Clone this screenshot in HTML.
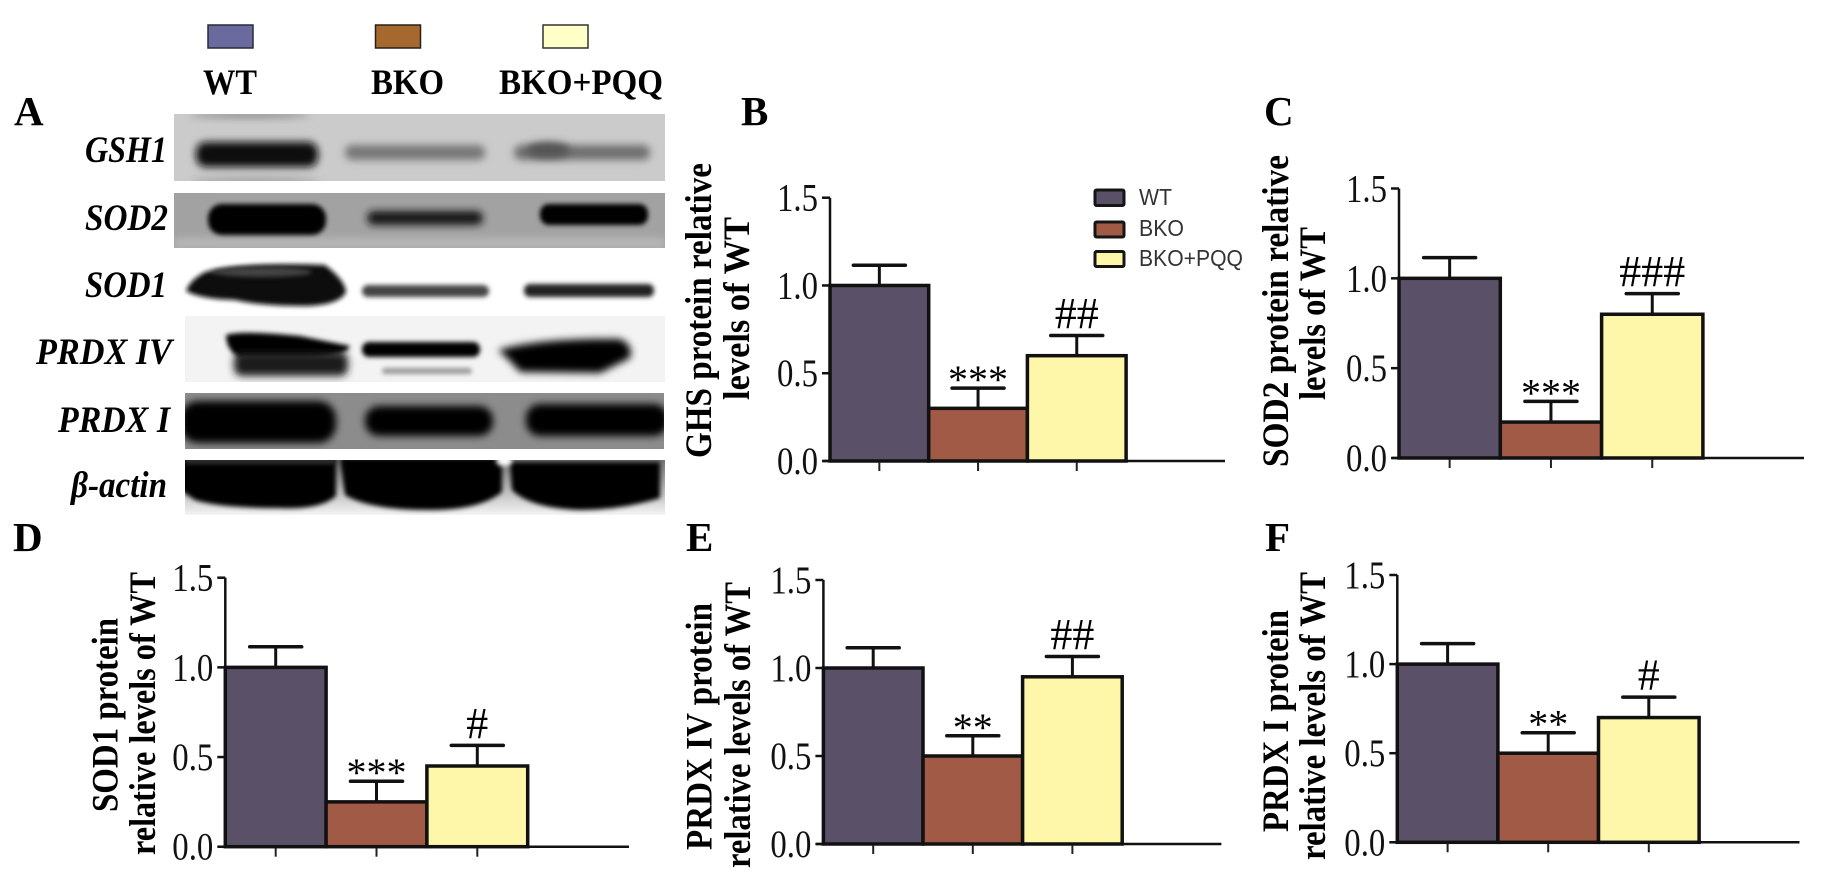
<!DOCTYPE html>
<html lang="en">
<head>
<meta charset="utf-8">
<title>Western blot and protein level bar charts</title>
<style>
html,body{margin:0;padding:0;background:#fff;}
svg{display:block;}
text{font-family:"Liberation Serif",serif;fill:#000;}
.panel-letter{font-size:41px;font-weight:bold;}
.head{font-size:36px;font-weight:bold;}
.blot-label{font-size:37px;font-weight:bold;font-style:italic;}
.axis-title{font-size:37px;font-weight:bold;}
.tick-label{font-size:39px;fill:#111;}
.star{font-size:40px;}
.hash{font-size:44px;}
.legend-text{font-family:"Liberation Sans",sans-serif;font-size:23px;fill:#333;}
</style>
</head>
<body>
<svg id="figure" xmlns="http://www.w3.org/2000/svg" width="1824" height="887" viewBox="0 0 1824 887">
  <defs>
    <filter id="b2" x="-30%" y="-100%" width="160%" height="300%"><feGaussianBlur stdDeviation="2.500"/></filter>
    <filter id="b3" x="-30%" y="-100%" width="160%" height="300%"><feGaussianBlur stdDeviation="4"/></filter>
    <filter id="b6" x="-100%" y="-100%" width="300%" height="300%"><feGaussianBlur stdDeviation="6"/></filter>
    <linearGradient id="actin-bottom" x1="0" y1="0" x2="0" y2="1">
      <stop offset="0" stop-color="#777"/><stop offset="1" stop-color="#f4f4f4"/>
    </linearGradient>
    <clipPath id="clip-gsh"><rect x="174" y="114" width="491" height="67"/></clipPath>
    <clipPath id="clip-sod2"><rect x="174" y="193" width="491" height="55"/></clipPath>
    <clipPath id="clip-prdx4"><rect x="185" y="316" width="480" height="66"/></clipPath>
    <clipPath id="clip-prdx1"><rect x="185" y="393" width="479" height="56"/></clipPath>
    <clipPath id="clip-actin"><rect x="185" y="460" width="480" height="55"/></clipPath>
  </defs>
  <rect x="0" y="0" width="1824" height="887" fill="#fff"/>

  <g>
    <rect x="208" y="25" width="45" height="23" fill="#6a6a9f" stroke="#2a2a3a" stroke-width="1.5"/>
    <rect x="375.500" y="25" width="45" height="23" fill="#a5692f" stroke="#2a2016" stroke-width="1.5"/>
    <rect x="543" y="25" width="45" height="23" fill="#ffffc8" stroke="#333" stroke-width="1.5"/>
    <text class="head" x="203" y="94" textLength="54" lengthAdjust="spacingAndGlyphs">WT</text>
    <text class="head" x="371" y="94" textLength="73" lengthAdjust="spacingAndGlyphs">BKO</text>
    <text class="head" x="499" y="94" textLength="164" lengthAdjust="spacingAndGlyphs">BKO+PQQ</text>
  </g>

  <g>
    <text class="panel-letter" x="14" y="125">A</text>
    <text class="panel-letter" x="741" y="125">B</text>
    <text class="panel-letter" x="1264" y="125">C</text>
    <text class="panel-letter" x="13" y="551">D</text>
    <text class="panel-letter" x="686" y="551">E</text>
    <text class="panel-letter" x="1265" y="551">F</text>
  </g>

  <g>
    <g clip-path="url(#clip-gsh)">
      <rect x="174" y="114" width="491" height="67" fill="#cbcbcb"/>
      <ellipse cx="250" cy="115" rx="60" ry="3" fill="#8a8a8a" filter="url(#b3)"/>
      <ellipse cx="255" cy="181" rx="65" ry="3" fill="#999" filter="url(#b3)"/>
      <rect x="196" y="142" width="122" height="25" rx="10" fill="#0c0c0c" filter="url(#b3)"/>
      <rect x="345" y="145" width="140" height="15" rx="7" fill="#777" filter="url(#b3)"/>
      <rect x="514" y="145" width="136" height="15" rx="7" fill="#707070" filter="url(#b3)"/>
      <ellipse cx="548" cy="150" rx="22" ry="8" fill="#555" filter="url(#b3)"/>
    </g>
    <g clip-path="url(#clip-sod2)">
      <rect x="174" y="193" width="491" height="55" fill="#a2a2a2"/>
      <rect x="174" y="238" width="491" height="10" fill="#b8b8b8" filter="url(#b3)"/>
      <rect x="208" y="204" width="118" height="31" rx="14" fill="#000" filter="url(#b2)"/>
      <rect x="367" y="211" width="116" height="14" rx="7" fill="#151515" filter="url(#b3)"/>
      <rect x="540" y="204" width="108" height="21" rx="9" fill="#000" filter="url(#b2)"/>
    </g>
    <g>
      <path d="M205 272 Q240 262 325 265 Q345 280 346 292 Q340 305 305 306 Q260 306 235 300 Q200 299 186 291 Q190 280 205 272 Z" fill="#111" filter="url(#b2)"/>
      <ellipse cx="262" cy="272" rx="50" ry="5" fill="#444" filter="url(#b2)"/>
      <rect x="362" y="285" width="127" height="12" rx="6" fill="#444" filter="url(#b2)"/>
      <rect x="524" y="284" width="130" height="13" rx="6" fill="#222" filter="url(#b2)"/>
    </g>
    <g clip-path="url(#clip-prdx4)">
      <rect x="185" y="316" width="480" height="66" fill="#f3f3f3"/>
      <path d="M226 335 Q240 330 300 336 L350 346 Q346 358 300 358 L240 358 Q226 350 226 335 Z" fill="#000" filter="url(#b2)"/>
      <rect x="234" y="352" width="114" height="24" rx="8" fill="#1a1a1a" filter="url(#b3)"/>
      <rect x="362" y="342" width="118" height="15" rx="7" fill="#000" filter="url(#b2)"/>
      <rect x="382" y="368" width="90" height="6" rx="3" fill="#999" filter="url(#b2)"/>
      <path d="M498 350 Q540 338 620 339 Q634 345 630 358 L600 373 L520 372 Q510 360 498 350 Z" fill="#000" filter="url(#b3)"/>
    </g>
    <g clip-path="url(#clip-prdx1)">
      <rect x="185" y="393" width="479" height="56" fill="#8c8c8c"/>
      <rect x="180" y="401" width="156" height="42" rx="18" fill="#000" filter="url(#b3)"/>
      <rect x="365" y="406" width="128" height="30" rx="14" fill="#000" filter="url(#b3)"/>
      <rect x="526" y="404" width="142" height="32" rx="14" fill="#000" filter="url(#b3)"/>
    </g>
    <g clip-path="url(#clip-actin)">
      <rect x="185" y="460" width="480" height="55" fill="url(#actin-bottom)"/>
      <path d="M180 458 L336 458 L336 496 Q320 510 280 508 Q220 508 195 500 L180 490 Z" fill="#000" filter="url(#b2)"/>
      <path d="M340 458 L502 458 L502 492 Q480 510 430 510 Q370 510 345 495 Z" fill="#000" filter="url(#b2)"/>
      <path d="M510 462 L660 462 L660 498 Q620 510 580 510 Q530 508 512 490 Z" fill="#000" filter="url(#b2)"/>
      <rect x="185" y="458" width="150" height="6" fill="#333" filter="url(#b2)"/>
      <ellipse cx="504" cy="461" rx="8" ry="5" fill="#fff" filter="url(#b2)"/>
    </g>
    <text class="blot-label" x="85" y="162" textLength="82" lengthAdjust="spacingAndGlyphs">GSH1</text>
    <text class="blot-label" x="85" y="230" textLength="83" lengthAdjust="spacingAndGlyphs">SOD2</text>
    <text class="blot-label" x="85" y="297" textLength="82" lengthAdjust="spacingAndGlyphs">SOD1</text>
    <text class="blot-label" x="36" y="364" textLength="136" lengthAdjust="spacingAndGlyphs">PRDX IV</text>
    <text class="blot-label" x="58" y="432" textLength="112" lengthAdjust="spacingAndGlyphs">PRDX I</text>
    <text class="blot-label" x="71" y="497" textLength="96" lengthAdjust="spacingAndGlyphs">β-actin</text>
  </g>

  <g id="charts"></g>

  <g>
    <rect x="1095" y="190" width="29" height="15.500" rx="1.500" fill="#5a5068" stroke="#151515" stroke-width="3"/>
    <text class="legend-text" x="1139" y="205" textLength="33" lengthAdjust="spacingAndGlyphs">WT</text>
    <rect x="1095" y="222" width="29" height="15" rx="1.500" fill="#a05a45" stroke="#151515" stroke-width="3"/>
    <text class="legend-text" x="1139" y="236" textLength="45" lengthAdjust="spacingAndGlyphs">BKO</text>
    <rect x="1095" y="251.500" width="29" height="15" rx="1.500" fill="#fef6a8" stroke="#151515" stroke-width="3"/>
    <text class="legend-text" x="1139" y="266" textLength="104" lengthAdjust="spacingAndGlyphs">BKO+PQQ</text>
  </g>
</svg>

<script>
// Chart data
const categories = ['WT', 'BKO', 'BKO+PQQ'];
const tickValues = [0, 0.5, 1.0, 1.5];
const tickLabels = ['0.0', '0.5', '1.0', '1.5'];

const gshValues = [1.0, 0.3, 0.6];
const gshErrors = [0.115, 0.115, 0.115];
const gshMarks = ['', '***', '##'];

const sod2Values = [1.0, 0.2, 0.8];
const sod2Errors = [0.115, 0.115, 0.115];
const sod2Marks = ['', '***', '###'];

const sod1Values = [1.0, 0.25, 0.45];
const sod1Errors = [0.115, 0.115, 0.115];
const sod1Marks = ['', '***', '#'];

const prdx4Values = [1.0, 0.5, 0.95];
const prdx4Errors = [0.115, 0.115, 0.115];
const prdx4Marks = ['', '**', '##'];

const prdx1Values = [1.0, 0.5, 0.7];
const prdx1Errors = [0.115, 0.115, 0.115];
const prdx1Marks = ['', '**', '#'];

const barFills = ['#5a5068', '#a05a45', '#fef6a8'];
const NS = 'http://www.w3.org/2000/svg';
const root = document.getElementById('charts');

const charts = [
  { id: 'ghs', values: gshValues, errors: gshErrors, marks: gshMarks,
    frame: { x0: 830, barW: 98.700, xEnd: 1225, yTop: 197.700, yBase: 461 },
    titles: [
      { text: 'GHS protein relative', x: 711, top: 163, bottom: 458 },
      { text: 'levels of WT', x: 749, top: 217, bottom: 400 } ] },
  { id: 'sod2', values: sod2Values, errors: sod2Errors, marks: sod2Marks,
    frame: { x0: 1399, barW: 101.300, xEnd: 1804, yTop: 188.500, yBase: 458 },
    titles: [
      { text: 'SOD2 protein relative', x: 1288, top: 155, bottom: 467 },
      { text: 'levels of WT', x: 1325, top: 227, bottom: 400 } ] },
  { id: 'sod1', values: sod1Values, errors: sod1Errors, marks: sod1Marks,
    frame: { x0: 225.300, barW: 100.800, xEnd: 629, yTop: 577.700, yBase: 846.700 },
    titles: [
      { text: 'SOD1 protein', x: 117.500, top: 618, bottom: 812 },
      { text: 'relative levels of WT', x: 155, top: 572, bottom: 855 } ] },
  { id: 'prdx-iv', values: prdx4Values, errors: prdx4Errors, marks: prdx4Marks,
    frame: { x0: 823.400, barW: 99.600, xEnd: 1221.400, yTop: 580, yBase: 844 },
    titles: [
      { text: 'PRDX IV protein', x: 711.700, top: 603, bottom: 850 },
      { text: 'relative levels of WT', x: 750, top: 582, bottom: 868 } ] },
  { id: 'prdx-i', values: prdx1Values, errors: prdx1Errors, marks: prdx1Marks,
    frame: { x0: 1397.300, barW: 100.600, xEnd: 1799.500, yTop: 575, yBase: 842.300 },
    titles: [
      { text: 'PRDX I protein', x: 1288, top: 610, bottom: 832 },
      { text: 'relative levels of WT', x: 1325, top: 572, bottom: 860 } ] }
];

function make(tag, attrs, parent) {
  const node = document.createElementNS(NS, tag);
  for (const key in attrs) node.setAttribute(key, attrs[key]);
  parent.appendChild(node);
  return node;
}

function drawChart(chart) {
  const f = chart.frame;
  const yScale = function (v) { return f.yBase - (v / 1.5) * (f.yBase - f.yTop); };
  const xLeft = function (i) { return f.x0 + i * f.barW; };
  const xCenter = function (i) { return xLeft(i) + f.barW / 2; };

  const group = make('g', {}, root);
  
  

  chart.titles.forEach(function (t, i) {
    const mid = (t.top + t.bottom) / 2;
    const title = make('text', {
      'class': 'axis-title',
      x: 0, y: 0,
      'text-anchor': 'middle',
      textLength: t.bottom - t.top,
      lengthAdjust: 'spacingAndGlyphs',
      transform: 'translate(' + t.x + ',' + mid + ') rotate(-90)'
    }, group);
    
    
    title.textContent = t.text;
  });

  chart.values.forEach(function (v, i) {
    const errTop = yScale(v + chart.errors[i]);
    const stem = make('line', {
      x1: xCenter(i), x2: xCenter(i), y1: yScale(v), y2: errTop,
      stroke: '#111', 'stroke-width': 3
    }, group);
    
    

    const cap = make('line', {
      x1: xCenter(i) - 26, x2: xCenter(i) + 26, y1: errTop, y2: errTop,
      stroke: '#111', 'stroke-width': 3.500, 'stroke-linecap': 'round'
    }, group);
    
    

    const bar = make('rect', {
      x: xLeft(i), y: yScale(v), width: f.barW, height: yScale(0) - yScale(v),
      fill: barFills[i], stroke: '#111', 'stroke-width': 3.500
    }, group);
    
    

    const label = chart.marks[i];
    if (label) {
      const isStar = label.charAt(0) === '*';
      const mark = make('text', {
        'class': isStar ? 'star' : 'hash',
        x: xCenter(i),
        y: isStar ? errTop + 5 : errTop - 7.500,
        'text-anchor': 'middle'
      }, group);
      
      
      mark.textContent = label;
    }

    const tick = make('line', {
      x1: xCenter(i), x2: xCenter(i), y1: yScale(0), y2: yScale(0) + 10,
      stroke: '#222', 'stroke-width': 2
    }, group);
    
    
  });

  const yAxis = make('line', {
    x1: f.x0, x2: f.x0, y1: yScale(1.5), y2: yScale(0),
    stroke: '#111', 'stroke-width': 2.500
  }, group);
  
  

  const xAxis = make('line', {
    x1: f.x0 - 7, x2: f.xEnd, y1: yScale(0), y2: yScale(0),
    stroke: '#111', 'stroke-width': 2.500
  }, group);
  
  

  tickValues.forEach(function (v, i) {
    const tick = make('line', {
      x1: f.x0 - 8, x2: f.x0, y1: yScale(v), y2: yScale(v),
      stroke: '#111', 'stroke-width': 2.500
    }, group);
    
    

    const text = make('text', {
      'class': 'tick-label',
      x: f.x0 - 12,
      y: yScale(v) + 13,
      'text-anchor': 'end',
      textLength: 41,
      lengthAdjust: 'spacingAndGlyphs'
    }, group);
    
    
    text.textContent = tickLabels[i];
  });
}

charts.forEach(drawChart);
</script>
</body>
</html>
